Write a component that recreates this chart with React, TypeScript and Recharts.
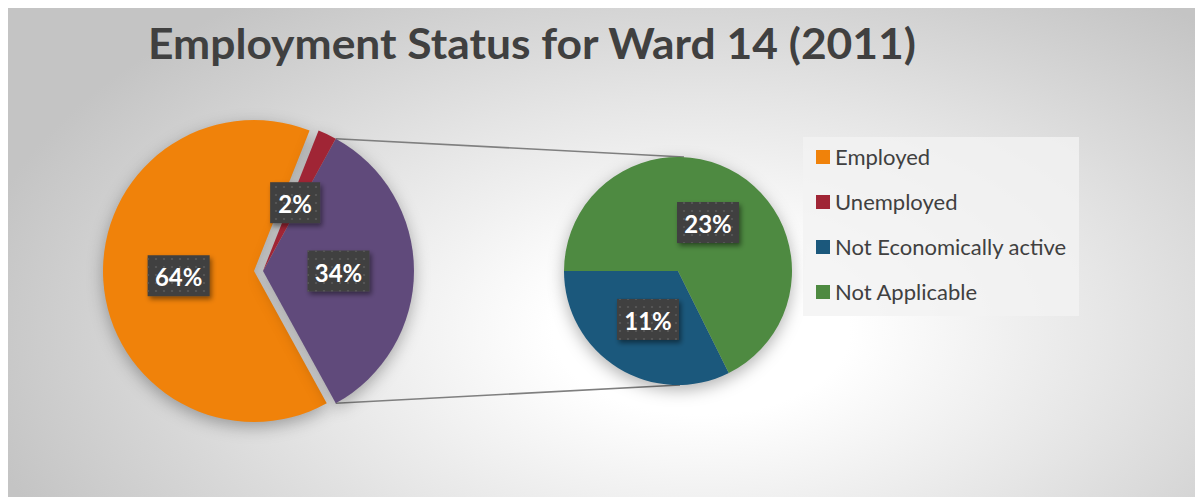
import React from 'react';
import { PieChart, Pie, Cell, Legend, Customized } from 'recharts';

const categories = ['Employed', 'Unemployed', 'Not Economically active', 'Not Applicable'];
const shares = [64, 2, 11, 23];
const colors = ['#F0820A', '#A02535', '#1B587C', '#4E8A41'];
const otherColor = '#604A7B';
const chartTitle = 'Employment Status for Ward 14 (2011)';

const W = 1196;
const H = 491;
const RADIAN = Math.PI / 180;

// geometry of the two pies
const mainCx = 255;
const mainCy = 264;
const mainR = 151;
const explodeOffset = 9;
const subCx = 670;
const subCy = 264;
const subR = 114;

const total = shares.reduce((a, b) => a + b, 0);
const otherValue = shares[2] + shares[3];
const startA = -(otherValue / total) * 180;
const groupEnd = startA + ((otherValue + shares[1]) / total) * 360;

const groupData = [
  { name: 'Other', value: otherValue, color: otherColor },
  { name: categories[1], value: shares[1], color: colors[1] },
];
const employedData = [{ name: categories[0], value: shares[0], color: colors[0] }];
const secondData = [
  { name: categories[2], value: shares[2], color: colors[2] },
  { name: categories[3], value: shares[3], color: colors[3] },
];

const renderLabel = (props: any) => {
  const { cx, cy, midAngle, outerRadius, value } = props;
  const r = outerRadius * 0.5;
  const x = cx + r * Math.cos(-midAngle * RADIAN);
  const y = cy + r * Math.sin(-midAngle * RADIAN);
  const text = `${value}%`;
  const w = text.length > 2 ? 62 : 50;
  const h = 41;
  return (
    <g>
      <rect x={x - w / 2} y={y - h / 2} width={w} height={h} fill="#404040" filter="url(#lblShadow)" />
      <rect x={x - w / 2} y={y - h / 2} width={w} height={h} fill="url(#dots)" />
      <text
        x={x}
        y={y + 1}
        textAnchor="middle"
        dominantBaseline="central"
        fill="#ffffff"
        fontFamily="Lato, 'Open Sans', sans-serif"
        fontWeight={700}
        fontSize={24}
      >
        {text}
      </text>
    </g>
  );
};

const Connectors = () => {
  const a = -startA * RADIAN;
  const x1 = mainCx + mainR * Math.cos(a);
  const yTop = mainCy - mainR * Math.sin(a);
  const yBot = mainCy + mainR * Math.sin(a);
  return (
    <g>
      <line x1={x1} y1={yTop} x2={subCx + 6} y2={subCy - subR} stroke="#7f7f7f" strokeWidth={1.6} />
      <line x1={x1} y1={yBot} x2={subCx + 2} y2={subCy + subR} stroke="#7f7f7f" strokeWidth={1.6} />
    </g>
  );
};

const Title = () => (
  <text
    x={140}
    y={52}
    fill="#404040"
    fontFamily="Lato, 'Open Sans', sans-serif"
    fontWeight={700}
    fontSize={42}
    textLength={768}
    lengthAdjust="spacingAndGlyphs"
  >
    {chartTitle}
  </text>
);

const renderLegend = () => (
  <div
    style={{
      width: 276,
      height: 179,
      background: 'rgba(242,242,242,0.8)',
      boxSizing: 'border-box',
      paddingLeft: 13,
    }}
  >
    <div style={{ position: 'relative', top: -3 }}>
      {categories.map((c, i) => (
        <div key={c} style={{ display: 'flex', alignItems: 'center', height: 45 }}>
          <span style={{ width: 14, height: 14, background: colors[i], display: 'inline-block', marginRight: 5, flexShrink: 0 }} />
          <span style={{ fontFamily: "Lato, 'Open Sans', sans-serif", fontSize: 22, color: '#404040', whiteSpace: 'nowrap' }}>{c}</span>
        </div>
      ))}
    </div>
  </div>
);

export default function App() {
  return (
    <div
      style={{
        marginLeft: -1,
        marginTop: -2,
        width: W,
        height: H,
        borderTop: '1px solid #bdbdbd',
        borderLeft: '1px solid #c8c8c8',
        background: 'radial-gradient(ellipse 62% 85% at 58% 66%, #ffffff 20%, #e6e6e6 55%, #c4c4c4 100%)',
        position: 'relative',
      }}
    >
      <style>{`.recharts-pie { filter: drop-shadow(0px 5px 8px rgba(0,0,0,0.3)); }`}</style>
      <svg width={0} height={0} style={{ position: 'absolute' }}>
        <defs>
          <pattern id="dots" width={8} height={8} patternUnits="userSpaceOnUse">
            <circle cx={4} cy={4} r={1.1} fill="#5a5a5a" />
          </pattern>
          <filter id="lblShadow" x="-30%" y="-30%" width="160%" height="180%">
            <feDropShadow dx={2} dy={3} stdDeviation={2.5} floodColor="#000" floodOpacity={0.45} />
          </filter>
        </defs>
      </svg>
      <PieChart width={W} height={H} margin={{ top: 0, right: 0, bottom: 0, left: 0 }}>
        <Customized component={Title} />
        <Customized component={Connectors} />
        <Pie
          data={employedData}
          dataKey="value"
          nameKey="name"
          cx={mainCx - explodeOffset}
          cy={mainCy}
          outerRadius={mainR}
          startAngle={groupEnd}
          endAngle={startA + 360}
          stroke="none"
          label={renderLabel}
          labelLine={false}
          isAnimationActive={false}
        >
          {employedData.map((d, i) => (
            <Cell key={`e-${i}`} fill={d.color} />
          ))}
        </Pie>
        <Pie
          data={groupData}
          dataKey="value"
          nameKey="name"
          cx={mainCx}
          cy={mainCy}
          outerRadius={mainR}
          startAngle={startA}
          endAngle={groupEnd}
          stroke="none"
          label={renderLabel}
          labelLine={false}
          isAnimationActive={false}
        >
          {groupData.map((d, i) => (
            <Cell key={`g-${i}`} fill={d.color} />
          ))}
        </Pie>
        <Pie
          data={secondData}
          dataKey="value"
          nameKey="name"
          cx={subCx}
          cy={subCy}
          outerRadius={subR}
          startAngle={180}
          endAngle={540}
          stroke="none"
          label={renderLabel}
          labelLine={false}
          isAnimationActive={false}
        >
          {secondData.map((d, i) => (
            <Cell key={`s-${i}`} fill={d.color} />
          ))}
        </Pie>
        <Legend content={renderLegend} wrapperStyle={{ left: 795, top: 130, width: 276, height: 179 }} />
      </PieChart>
    </div>
  );
}
